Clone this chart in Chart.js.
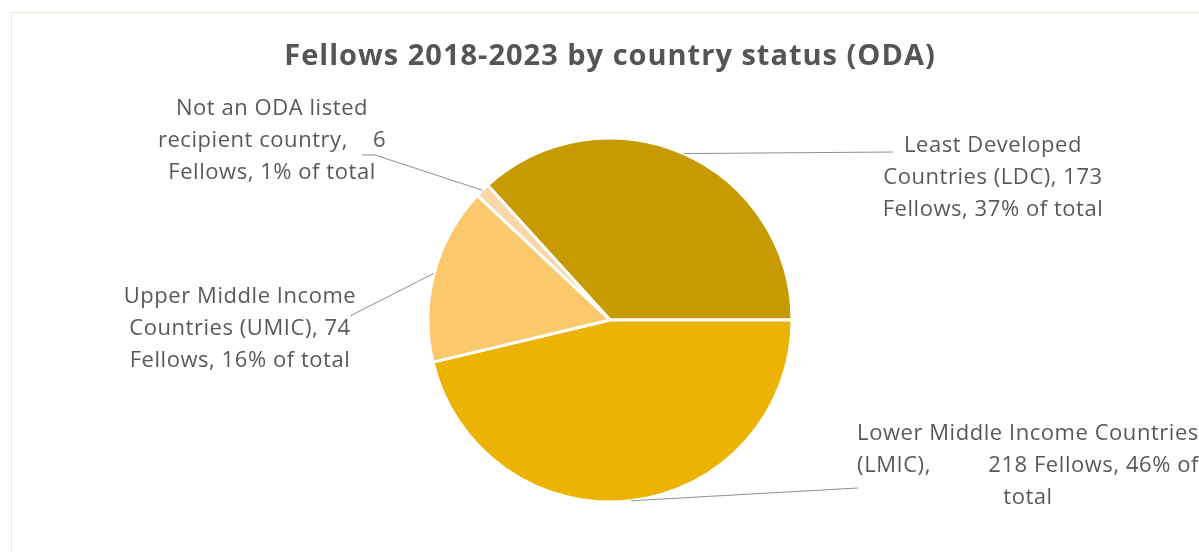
<!DOCTYPE html>
<html>
<head>
<meta charset="utf-8">
<script src="https://cdn.jsdelivr.net/npm/chart.js@4.4.1/dist/chart.umd.min.js"></script>
<style>
  html, body { margin: 0; padding: 0; background: #fff; }
  #wrap { position: relative; width: 1199px; height: 552px; overflow: hidden; }
  #frame { position: absolute; left: 11px; top: 12px; width: 1200px; height: 560px; border: 1px solid #f1e8d4; }
  #chart { position: absolute; left: 0; top: 0; }
</style>
</head>
<body>
<div id="wrap">
  <div id="frame"></div>
  <canvas id="chart" width="1199" height="552"></canvas>
</div>
<script>
    'use strict';

    var categories = [
        'Least Developed Countries (LDC)',
        'Lower Middle Income Countries (LMIC)',
        'Upper Middle Income Countries (UMIC)',
        'Not an ODA listed recipient country'
    ];
    var fellows = [173, 218, 74, 6];
    var sliceColors = ['#c69a00', '#edb304', '#fbc86b', '#fad6a9'];
    var chartTitle = 'Fellows 2018-2023 by country status (ODA)';

    // label text, {v} = fellows, {p} = percent of total; a '\t' splits a justified line
    var labelLines = [
        ['Least Developed', 'Countries (LDC), {v}', 'Fellows, {p}% of total'],
        ['Lower Middle Income Countries', '(LMIC),\t{v} Fellows, {p}% of', 'total'],
        ['Upper Middle Income', 'Countries (UMIC), {v}', 'Fellows, {p}% of total'],
        ['Not an ODA listed', 'recipient country,    {v}', 'Fellows, {p}% of total']
    ];

    // where each label sits: text centre x, first line y, leader end point(s)
    var labelPlace = [
        { x: 993, y: 146, leader: [[893, 152]] },
        { x: 1028, y: 434, leader: [[858, 488]] },
        { x: 240, y: 297, leader: [[350, 316]] },
        { x: 272, y: 109, leader: [[375, 155], [362, 155]] }
    ];

    var total = fellows.reduce(function (a, b) { return a + b; }, 0);
    var FONT = '"Open Sans", "Noto Sans", sans-serif';
    var LINE_H = 32;

    function fillTemplate(str, i) {
        var pct = Math.round(fellows[i] / total * 100);
        return str.replace('{v}', fellows[i]).replace('{p}', pct);
    }

    var pieLabels = {
        id: 'pieLabels',
        afterDraw: function (chart) {
            var ctx = chart.ctx;
            var meta = chart.getDatasetMeta(0);

            ctx.save();
            ctx.fillStyle = '#555555';
            ctx.font = 'bold 29px ' + FONT;
            ctx.letterSpacing = '1px';
            ctx.textAlign = 'center';
            ctx.textBaseline = 'middle';
            ctx.fillText(chartTitle, 610, 57);

            meta.data.forEach(function (arc, i) {
                var p = arc.getProps(['x', 'y', 'startAngle', 'endAngle', 'outerRadius'], true);
                var mid = (p.startAngle + p.endAngle) / 2;
                var ax = p.x + Math.cos(mid) * p.outerRadius;
                var ay = p.y + Math.sin(mid) * p.outerRadius;
                var place = labelPlace[i];

                ctx.strokeStyle = '#8f8f8f';
                ctx.lineWidth = 1;
                ctx.beginPath();
                ctx.moveTo(ax, ay);
                place.leader.forEach(function (pt) { ctx.lineTo(pt[0], pt[1]); });
                ctx.stroke();

                ctx.font = '22px ' + FONT;
                ctx.letterSpacing = '0.55px';
                ctx.fillStyle = '#595959';
                var lines = labelLines[i].map(function (s) { return fillTemplate(s, i); });
                var maxW = ctx.measureText(lines[0]).width;
                lines.forEach(function (line, k) {
                    var y = place.y + k * LINE_H;
                    if (line.indexOf('\t') >= 0) {
                        var parts = line.split('\t');
                        ctx.textAlign = 'left';
                        ctx.fillText(parts[0], place.x - maxW / 2, y);
                        ctx.textAlign = 'right';
                        ctx.fillText(parts[1], place.x + maxW / 2, y);
                    } else {
                        ctx.textAlign = 'center';
                        ctx.fillText(line, place.x, y);
                    }
                });
            });
            ctx.restore();
        }
    };

    new Chart(document.getElementById('chart').getContext('2d'), {
        type: 'pie',
        data: {
            labels: categories,
            datasets: [{
                data: fellows,
                backgroundColor: sliceColors,
                borderColor: '#ffffff',
                borderWidth: 3
            }]
        },
        options: {
            responsive: false,
            animation: false,
            devicePixelRatio: 1,
            radius: 182,
            // first slice ends at 3 o'clock
            rotation: 90 - fellows[0] / total * 360,
            layout: { padding: { left: 420, right: 399, top: 130, bottom: 42 } },
            plugins: {
                legend: { display: false },
                tooltip: { enabled: false },
                title: { display: false }
            }
        },
        plugins: [pieLabels]
    });
</script>
</body>
</html>
